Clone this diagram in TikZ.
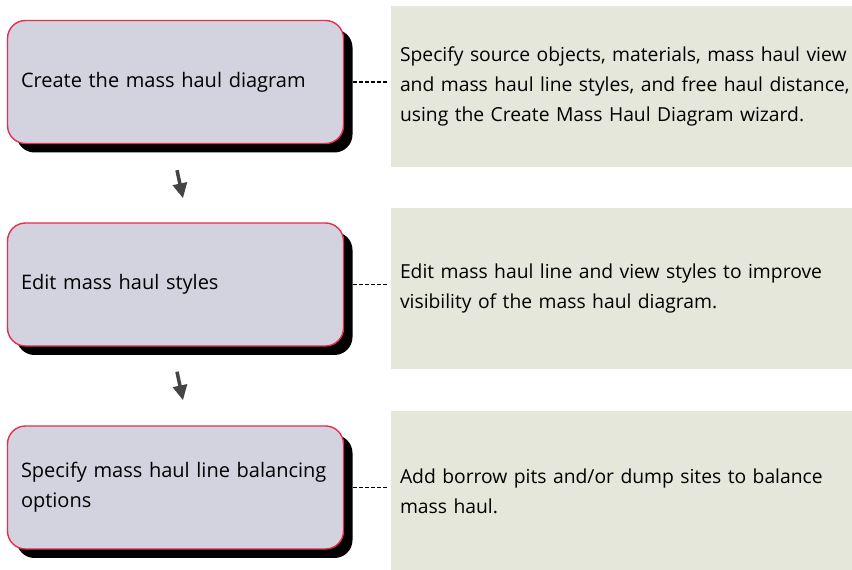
\documentclass[tikz,border=0pt]{standalone}
\usepackage{fontspec}
\setmainfont{Open Sans}
\usetikzlibrary{arrows.meta,shadows}

\definecolor{stepfill}{HTML}{D3D3DF}
\definecolor{stepedge}{HTML}{E2304E}
\definecolor{notefill}{HTML}{E4E7DA}
\definecolor{arrowgray}{HTML}{444444}

\begin{document}
\begin{tikzpicture}[x=1pt,y=1pt,
  stepbox/.style={draw=stepedge, line width=1.4pt, fill=stepfill, rounded corners=18pt,
    minimum width=336pt, minimum height=123pt, text width=309pt, inner xsep=13pt,
    align=left, font=\fontsize{20}{30}\selectfont,
    drop shadow={shadow xshift=9pt, shadow yshift=-9pt, fill=black, opacity=1}},
  notebox/.style={fill=notefill, minimum width=489pt, minimum height=161pt,
    text width=471pt, inner xsep=9pt, align=left, font=\fontsize{19.3}{30}\selectfont},
  linkline/.style={dash pattern=on 4pt off 2pt, line width=1.2pt},
  steparrow/.style={draw=arrowgray, line width=3.5pt,
    -{Triangle[width=14pt,length=15pt]}}]
  \useasboundingbox (0,0) rectangle (852,570);
  \clip (0,0) rectangle (852,570);
  \node[notebox] (noteA) at (635.5,483.5) {Specify source objects, materials, mass haul view\\and mass haul line styles, and free haul distance,\\using the Create Mass Haul Diagram wizard.};
  \node[notebox] (noteB) at (635.5,281.5) {Edit mass haul line and view styles to improve\\visibility of the mass haul diagram.};
  \node[notebox] (noteC) at (635.5,78.5) {Add borrow pits and/or dump sites to balance\\mass haul.};
  \node[stepbox] (stepA) at (175.5,488) {Create the mass haul diagram};
  \node[stepbox] (stepB) at (175.5,285.5) {Edit mass haul styles};
  \node[stepbox] (stepC) at (175.5,82.5) {Specify mass haul line balancing\\options};
  \draw[linkline] ([xshift=9pt]stepA.east) -- ([xshift=-3pt]stepA.east -| noteA.west);
  \draw[linkline] ([xshift=9pt]stepB.east) -- ([xshift=-3pt]stepB.east -| noteB.west);
  \draw[linkline] ([xshift=9pt]stepC.east) -- ([xshift=-3pt]stepC.east -| noteC.west);
  \draw[steparrow] ([shift={(1.5,-26)}]stepA.south) -- ([shift={(7.5,24)}]stepB.north);
  \draw[steparrow] ([shift={(1.5,-25)}]stepB.south) -- ([shift={(7.5,25)}]stepC.north);
\end{tikzpicture}
\end{document}
